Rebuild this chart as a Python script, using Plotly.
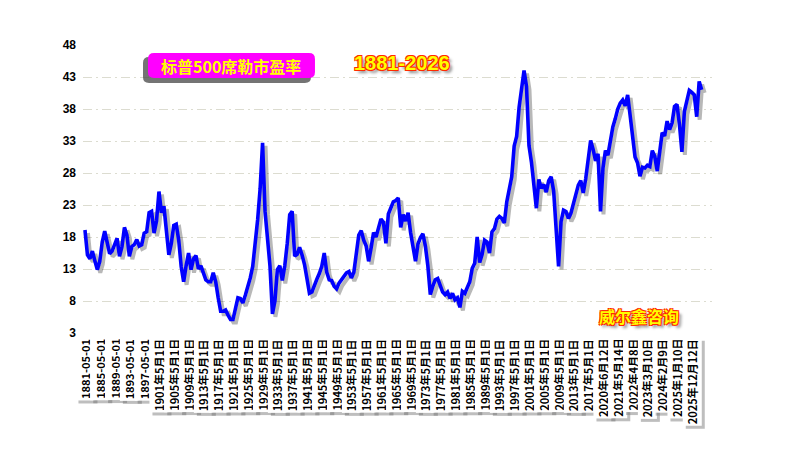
import plotly.graph_objects as go

# Shiller PE, sampled 6 points per labelled x-interval
pe = [
    19.1, 15.2, 14.6, 15.8, 14.3, 12.9, 14.2, 17.2, 18.9, 16.9,
    15.4, 15.8, 16.9, 17.8, 15.0, 16.5, 19.5, 18.3, 15.0, 16.5,
    16.8, 17.6, 16.6, 16.8, 18.6, 18.8, 21.8, 22.0, 18.6, 20.5,
    25.1, 21.8, 22.8, 19.0, 15.2, 17.0, 19.8, 20.0, 17.5, 13.4,
    11.0, 13.5, 15.5, 12.9, 14.6, 15.1, 13.0, 13.5, 12.2, 11.3,
    11.0, 11.0, 12.4, 11.0, 8.5, 6.4, 6.4, 6.6, 5.8, 5.1,
    5.1, 7.0, 8.5, 8.4, 7.7, 8.9, 10.1, 11.6, 13.4, 16.5,
    20.7, 25.5, 32.7, 22.0, 17.0, 13.5, 6.0, 8.0, 12.9, 13.5,
    11.2, 13.5, 17.0, 21.5, 22.0, 15.0, 15.3, 16.4, 15.2, 13.7,
    11.5, 9.2, 9.4, 10.6, 11.4, 12.3, 13.4, 15.5, 12.5, 11.3,
    11.2, 10.3, 9.9, 10.8, 11.4, 12.0, 12.4, 12.6, 11.6, 12.5,
    15.5, 18.3, 19.0, 17.5, 16.6, 14.2, 16.3, 18.7, 18.0, 19.4,
    20.8, 20.3, 17.0, 21.6, 22.6, 23.5, 23.7, 24.1, 19.5, 21.5,
    20.5, 21.8, 18.7, 16.7, 14.2, 16.9, 17.9, 18.5, 16.6, 13.5,
    9.0, 10.3, 11.3, 11.5, 10.6, 9.4, 9.0, 9.4, 8.4, 9.2,
    8.2, 8.5, 7.0, 9.5, 9.2, 10.2, 11.0, 13.1, 13.9, 18.0,
    14.0, 15.3, 17.5, 17.2, 15.5, 18.8, 19.3, 20.8, 21.2, 20.9,
    20.2, 23.5, 25.8, 27.4, 32.2, 33.7, 38.3, 41.3, 44.0, 41.5,
    32.3, 29.7, 25.5, 22.5, 27.0, 25.6, 26.2, 25.0, 26.8, 27.4,
    25.2, 20.0, 13.4, 20.4, 22.2, 22.0, 20.9, 21.7, 23.2, 25.1,
    26.1, 26.8, 24.9, 27.1, 29.9, 33.1, 31.7, 29.9, 31.0, 22.0,
    28.8, 31.5, 30.8, 33.3, 35.2, 36.5, 38.0, 38.9, 39.4, 38.5,
    40.2, 37.0, 34.0, 30.5, 29.6, 27.5, 28.9, 28.8, 29.2, 29.0,
    31.5, 30.6, 28.3, 31.7, 34.3, 33.8, 36.1, 34.8, 35.8, 38.4,
    38.7, 35.6, 31.3, 37.6, 39.5, 40.9, 40.6, 40.2, 36.8, 42.3,
    41.0,
]

tick_labels = [
    "1881-05-01", "1885-05-01", "1889-05-01", "1893-05-01", "1897-05-01",
    "1901年5月1日", "1905年5月1日", "1909年5月1日", "1913年5月1日", "1917年5月1日",
    "1921年5月1日", "1925年5月1日", "1929年5月1日", "1933年5月1日", "1937年5月1日",
    "1941年5月1日", "1945年5月1日", "1949年5月1日", "1953年5月1日", "1957年5月1日",
    "1961年5月1日", "1965年5月1日", "1969年5月1日", "1973年5月1日", "1977年5月1日",
    "1981年5月1日", "1985年5月1日", "1989年5月1日", "1993年5月1日", "1997年5月1日",
    "2001年5月1日", "2005年5月1日", "2009年5月1日", "2013年5月1日", "2017年5月1日",
    "2020年6月12日", "2021年5月14日", "2022年4月8日", "2023年3月10日", "2024年2月9日",
    "2025年1月10日", "2025年12月12日",
]
samples_per_label = 6
y_ticks = [3, 8, 13, 18, 23, 28, 33, 38, 43, 48]

xs = list(range(len(pe)))
tick_pos = [i * samples_per_label for i in range(len(tick_labels))]

X_RANGE = [-0.8, 254.2]
Y_RANGE = [3, 48]
SH_X, SH_Y = 1.2, 0.47  # shadow offset in axis units (~3px)

W, H = 787, 453
ML, MR, MT, MB = 83, 75, 45, 120

fig = go.Figure()
# shadow of the line (drawn on shifted base axes, beneath)
fig.add_trace(go.Scatter(x=xs, y=pe, mode="lines", xaxis="x", yaxis="y",
                         line=dict(color="rgba(0,0,0,0.28)", width=4),
                         hoverinfo="skip", showlegend=False))
# main line
fig.add_trace(go.Scatter(x=xs, y=pe, mode="lines", xaxis="x2", yaxis="y2",
                         line=dict(color="#0000FF", width=3.6),
                         showlegend=False))

cjk = "Noto Sans CJK SC"
fig.update_layout(
    width=W, height=H, autosize=False,
    margin=dict(l=ML, r=MR, t=MT, b=MB, pad=0),
    paper_bgcolor="white", plot_bgcolor="rgba(0,0,0,0)",
    xaxis=dict(range=[X_RANGE[0] - SH_X, X_RANGE[1] - SH_X], visible=False,
               showgrid=False, zeroline=False),
    yaxis=dict(range=[Y_RANGE[0] + SH_Y, Y_RANGE[1] + SH_Y], visible=False,
               showgrid=False, zeroline=False),
    xaxis2=dict(range=X_RANGE, overlaying="x", anchor="y2", showgrid=False,
                zeroline=False, showticklabels=False, ticks="", showline=False),
    yaxis2=dict(range=Y_RANGE, overlaying="y", anchor="x2", side="left",
                tickvals=y_ticks, ticks="", showline=False, zeroline=False,
                showgrid=True, gridcolor="#dcdcd0", gridwidth=1,
                griddash="9px,4px,2px,4px",
                tickfont=dict(family="Liberation Sans", size=12, color="black",
                              weight="bold"),
                ticklabelstandoff=6),
)


# decorative title box (rounded), described in page pixels -> paper coords
def px_to_paper(px, py):
    return (px - ML) / (W - ML - MR), (H - MB - py) / (H - MT - MB)


def rounded_rect(x0, y0, x1, y1, r):
    pts = []
    a = px_to_paper
    p = lambda x, y: "%.4f,%.4f" % a(x, y)
    return ("M" + p(x0 + r, y0) + " L" + p(x1 - r, y0) + " Q" + p(x1, y0) + " " + p(x1, y0 + r)
            + " L" + p(x1, y1 - r) + " Q" + p(x1, y1) + " " + p(x1 - r, y1)
            + " L" + p(x0 + r, y1) + " Q" + p(x0, y1) + " " + p(x0, y1 - r)
            + " L" + p(x0, y0 + r) + " Q" + p(x0, y0) + " " + p(x0 + r, y0) + " Z")


shapes = [
    dict(type="path", xref="paper", yref="paper", layer="above",
         path=rounded_rect(143, 57, 311, 83, 6), fillcolor="rgba(70,70,70,0.75)",
         line=dict(width=0)),
    dict(type="path", xref="paper", yref="paper", layer="above",
         path=rounded_rect(148, 53, 315, 78, 6), fillcolor="#FF00FF",
         line=dict(width=0)),
]

anns = []
for pos, lab in zip(tick_pos, tick_labels):
    base = dict(x=pos, y=0, xref="x2", yref="paper", text=lab, textangle=-90,
                xanchor="center", yanchor="top", showarrow=False, borderpad=1)
    anns.append(dict(base, xshift=3, yshift=-7, bgcolor="rgba(110,110,110,0.45)",
                     font=dict(family=cjk, size=11, color="rgba(0,0,0,0)",
                               weight="bold")))
    anns.append(dict(base, yshift=-4, bgcolor="white",
                     font=dict(family=cjk, size=11, color="black", weight="bold")))

center = dict(xref="paper", yref="paper", xanchor="center", yanchor="middle",
              showarrow=False)
tx, ty = px_to_paper(231, 66)
anns.append(dict(center, x=tx, y=ty, text="标普500席勒市盈率",
                 font=dict(family=cjk, size=16, color="#FFFF00", weight="bold")))

outline = ("-1px -1px 0 #ff2a00, 1px -1px 0 #ff2a00, -1px 1px 0 #ff2a00, "
           "1px 1px 0 #ff2a00, 3px 3px 3px #8a8a8a")
yx, yy = px_to_paper(402, 63)
anns.append(dict(center, x=yx, y=yy, text="1881-2026",
                 font=dict(family="Liberation Sans", size=20, color="#FFFF00",
                           weight="bold", shadow=outline)))
wx, wy = px_to_paper(639, 316)
anns.append(dict(center, x=wx, y=wy, text="威尔鑫咨询",
                 font=dict(family=cjk, size=16, color="#FFFF00", weight="bold",
                           shadow=outline)))

fig.update_layout(annotations=anns, shapes=shapes)
fig.write_html("out.html")
